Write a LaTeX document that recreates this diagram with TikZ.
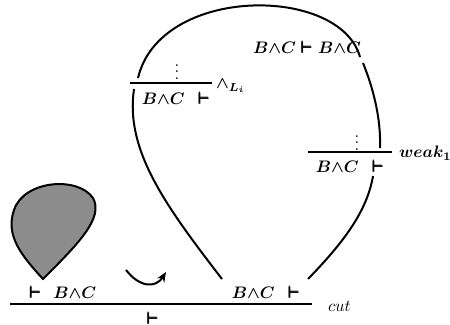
\documentclass[tikz,border=0pt]{standalone}
\usepackage{amsmath, amssymb}
\usepackage{tikz}
\usetikzlibrary{arrows.meta}

\newcommand{\thesis}{\mathrel{\pmb{\vdash}}}

\begin{document}
\begin{tikzpicture}[x=0.6pt, y=-0.6pt, every node/.style={inner sep=1pt, font=\boldmath}]
    \useasboundingbox (0,0) rectangle (450,324);

    % Rules
    \coordinate (R_CUT_L) at (10,304);  \coordinate (R_CUT_R) at (312,304);
    \coordinate (R_AND_L) at (130,83);  \coordinate (R_AND_R) at (212,83);
    \coordinate (R_WK_L)  at (308,152); \coordinate (R_WK_R)  at (392,152);
    \draw[very thick] (R_CUT_L) -- (R_CUT_R);
    \draw[very thick] (R_AND_L) -- (R_AND_R);
    \draw[very thick] (R_WK_L) -- (R_WK_R);

    % Sequents
    \node (S_TOP) at (307,47)  {$B{\wedge}C \thesis B{\wedge}C$};
    \node (S_AND) at (176,98)  {$B{\wedge}C\hspace{5pt}\thesis$};
    \node (S_WK)  at (350,166) {$B{\wedge}C\hspace{5pt}\thesis$};
    \node (S_BL)  at (63,292)  {$\thesis\hspace{4pt}B{\wedge}C$};
    \node (S_BR)  at (266,292) {$B{\wedge}C\hspace{5pt}\thesis$};
    \node (S_CUT) at (153,318) {$\thesis$};

    % Rule names and dots
    \node[anchor=west] (N_AND) at (214,86)  {$\wedge_{L_i}$};
    \node[anchor=west] (N_WK)  at (397,153) {$weak_1$};
    \node[anchor=west, font=\unboldmath] (N_CUT) at (326,306) {$cut$};
    \node (D_AND) at (177,67)  {$\vdots$};
    \node (D_WK)  at (357,138) {$\vdots$};

    % Ends of the threads
    \coordinate (T_AND_UP) at (138,78);  \coordinate (T_AND_DN) at (134,89);
    \coordinate (T_TOP_L)  at (360,57);  \coordinate (T_TOP_R)  at (363,63);
    \coordinate (T_WK_UP)  at (380,148); \coordinate (T_WK_DN)  at (373,176);
    \coordinate (T_BR_L)   at (222,279); \coordinate (T_BR_R)   at (308,279);

    % Threads
    \draw[very thick] (T_AND_UP) .. controls (160,-15) and (340,-15) .. (T_TOP_L);
    \draw[very thick] (T_TOP_R) .. controls (374,90) and (381,120) .. (T_WK_UP);
    \draw[very thick] (T_WK_DN) .. controls (367,212) and (342,244) .. (T_BR_R);
    \draw[very thick] (T_AND_DN) .. controls (125,150) and (165,205) .. (T_BR_L);

    % Blob
    \draw[very thick, fill=black!45] (43,279) .. controls (22,256) and (5,236) .. (14,210)
        .. controls (24,180) and (78,176) .. (93,198)
        .. controls (104,218) and (78,244) .. (43,279) -- cycle;

    % Reduction arrow
    \coordinate (A_S) at (126,270); \coordinate (A_E) at (166,272);
    \draw[very thick, -{Stealth[length=6pt, width=5pt]}] (A_S) .. controls (140,288) and (156,288) .. (A_E);
\end{tikzpicture}
\end{document}
